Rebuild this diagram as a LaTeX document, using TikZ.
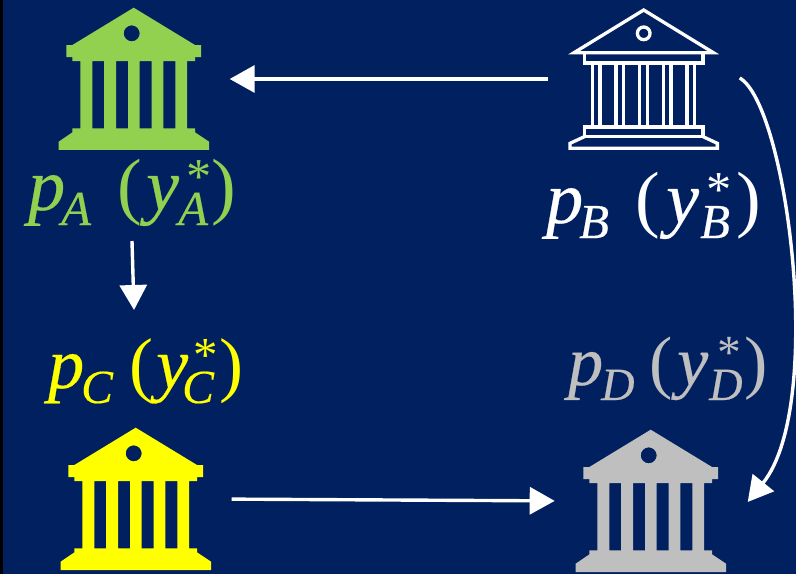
\documentclass[tikz,border=0pt]{standalone}
\usepackage{fontspec}
\setmainfont[ItalicFeatures={FakeBold=0.4}]{Liberation Serif}
\usetikzlibrary{arrows.meta,calc}
\definecolor{navy}{HTML}{002060}
\definecolor{bankgreen}{HTML}{92D050}
\definecolor{bankyellow}{HTML}{FFFF00}
\definecolor{bankgray}{HTML}{BFBFBF}
\newcommand{\placeat}[2]{\makebox[0pt][l]{\hspace*{#1pt}#2}}
% size, letter, paren x, y x, script x, star x, close x, total
\newcommand{\eqlab}[8]{{\fontsize{#1}{#1}\selectfont
  \placeat{3}{\itshape p}%
  \placeat{36}{\raisebox{-15pt}{\fontsize{0.66\dimexpr#1pt\relax}{10}\selectfont\itshape #2}}%
  \placeat{#3}{(}%
  \placeat{#4}{\itshape y}%
  \placeat{#5}{\raisebox{-15pt}{\fontsize{0.66\dimexpr#1pt\relax}{10}\selectfont\itshape #2}}%
  \placeat{#6}{\raisebox{17pt}{\fontsize{0.68\dimexpr#1pt\relax}{10}\selectfont *}}%
  \placeat{#7}{)}%
  \hspace*{#8pt}}}
\tikzset{
  x=1pt,y=-1pt,
  bankbox/.style={minimum width=150pt,minimum height=142.5pt,inner sep=0pt,outer sep=0pt},
  eqlabel/.style={anchor=base west,inner sep=0pt},
  flow/.style={white,line width=3.4pt,-{Triangle[length=25pt,width=27pt]}},
  pics/bankfilled/.style={code={
    \begin{scope}[x=0.3333pt,y=-0.3333pt,shift={(-281,-237)}]
      \fill[#1,even odd rule]
        (281,23) -- (465,135) -- (483,135) -- (483,171) -- (465,171) -- (465,183) -- (441,183)
        -- (441,385) -- (465,385) -- (465,397) -- (507,425) -- (507,450) -- (56,450) -- (56,425)
        -- (97,397) -- (97,385) -- (121,385) -- (121,183) -- (97,183) -- (97,171) -- (79,171)
        -- (79,135) -- (97,135) -- cycle
        (157,183) rectangle (192,385)
        (228,183) rectangle (264,385)
        (299,183) rectangle (335,385)
        (370,183) rectangle (406,385)
        (275,100) circle[radius=24];
    \end{scope}
  }},
  pics/bankoutline/.style={code={
    \begin{scope}[x=0.3333pt,y=-0.3333pt,shift={(-281,-237)},white,line width=3.3pt,miter limit=4]
      \draw (281,30) -- (490,158) -- (72,158) -- cycle;
      \draw (281,100) circle[radius=19];
      \draw (103,158) rectangle (459,189);
      \foreach \cx in {127,150,198,221,269,292,340,363,411,434}
        \draw (\cx,189) -- (\cx,381);
      \draw (103,381) rectangle (459,410);
      \draw (103,410) -- (60,430) -- (60,445) -- (502,445) -- (502,430) -- (459,410);
    \end{scope}
  }}
}
\begin{document}
\begin{tikzpicture}
  \useasboundingbox (0,0) rectangle (796,574);
  \fill[navy] (0,0) rectangle (796,574);
  \fill[black] (0,0) rectangle (2.5,574);

  \node[bankbox] (bankA) at (133.7,79) {};
  \node[bankbox] (bankB) at (643.7,79) {};
  \node[bankbox] (bankC) at (135.7,499) {};
  \node[bankbox] (bankD) at (650.7,501) {};
  \pic at (bankA) {bankfilled=bankgreen};
  \pic at (bankB) {bankoutline};
  \pic at (bankC) {bankfilled=bankyellow};
  \pic at (bankD) {bankfilled=bankgray};

  \node[eqlabel,text=bankgreen] (labelA) at (25,210) {\eqlab{74}{A}{92}{121}{153}{161}{186}{211}};
  \node[eqlabel,text=white] (labelB) at (543,223) {\eqlab{74}{B}{92}{123}{157}{163}{193}{217}};
  \node[eqlabel,text=bankyellow] (labelC) at (45,388) {\eqlab{72}{C}{84}{111}{137}{148}{174}{195}};
  \node[eqlabel,text=bankgray] (labelD) at (565,385) {\eqlab{70}{D}{84}{112}{144}{152}{179}{201}};

  \coordinate (arcStart) at ([xshift=21pt,yshift=1pt]bankB.east);
  \coordinate (arcEnd) at ([xshift=22pt,yshift=-1pt]bankD.east);
  \coordinate (acStart) at (132,241);
  \coordinate (acEnd) at (134,310);

  \draw[flow,shorten <=21pt,shorten >=21pt] (bankB.west) -- (bankA.east);
  \draw[flow,shorten <=21pt,shorten >=21pt] (bankC.east) -- (bankD.west);
  \draw[flow] (acStart) -- (acEnd);
  \draw[flow] (arcStart) .. controls (787,105) and (826,405) .. (arcEnd);
\end{tikzpicture}
\end{document}
